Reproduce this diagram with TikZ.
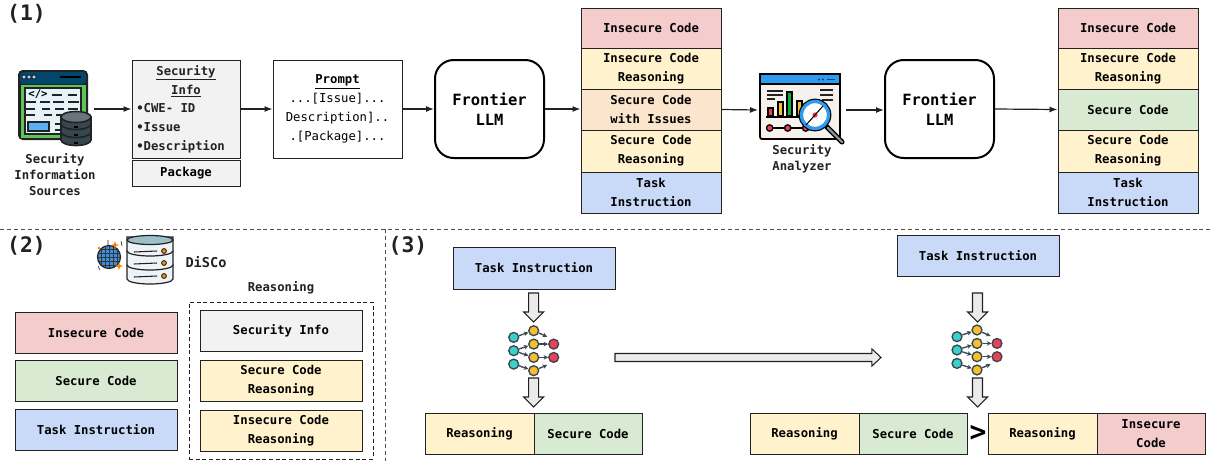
\documentclass[tikz,border=0pt]{standalone}
\usepackage{fontspec}
\setmainfont{DejaVu Sans Mono}
\usetikzlibrary{arrows.meta,calc}
\definecolor{cpink}{HTML}{F4CCCC}
\definecolor{cyel}{HTML}{FFF2CC}
\definecolor{cora}{HTML}{FCE5CD}
\definecolor{cgrn}{HTML}{D9EAD3}
\definecolor{cblu}{HTML}{C9DAF8}
\definecolor{cgry}{HTML}{F2F2F2}
\definecolor{ink}{HTML}{222222}
\definecolor{navy}{HTML}{03466B}
\definecolor{slate}{HTML}{37474F}
\definecolor{tealc}{HTML}{3CD0CC}
\definecolor{yelc}{HTML}{F7BE2D}
\definecolor{redc}{HTML}{EE3F55}
\definecolor{wingreen}{HTML}{5FC45A}
\definecolor{winblue}{HTML}{E6F4FA}
\definecolor{tabblue}{HTML}{5AB0F0}
\definecolor{hdrblue}{HTML}{2D9CF0}
\definecolor{paper}{HTML}{F7F1EE}
\definecolor{dbbody}{HTML}{EDF3F6}
\definecolor{dbtop}{HTML}{9DBFC9}
\definecolor{globeb}{HTML}{3F8FE0}
\newcommand\fs{\fontsize{9.2}{14.25}\selectfont\bfseries}
\tikzset{
 x=0.75pt,y=-0.75pt,
 box/.style={draw=ink,line width=0.75pt,inner sep=0pt,align=center,font=\fs},
 lbl/.style={inner sep=0pt,align=center,font=\fs,text=ink},
 flow/.style={draw=ink,line width=0.9pt,-{Latex[length=6pt,width=4.5pt]}},
 llm/.style={draw=black,line width=1.5pt,rounded corners=14pt,inner sep=0pt,align=center,
   font=\fontsize{11.6}{15}\selectfont\bfseries,minimum width=81.75pt,minimum height=73.5pt},
 title/.style={inner sep=0pt,font=\fontsize{16}{18}\selectfont\bfseries,text=ink},
 divider/.style={draw=ink!80,line width=0.7pt,dash pattern=on 3pt off 2.2pt},
 bigarrow/.style n args={3}{draw=ink,line width=0.8pt,fill=black!8,line join=miter,
   to path={let \p1=(\tikztostart),\p2=(\tikztotarget),
     \n1={atan2(\y2-\y1,\x2-\x1)},\n2={veclen(\x2-\x1,\y2-\y1)} in
     ($(\tikztostart)+({\n1+90}:#1)$) -- ++({\n1}:{\n2-#3}) -- ++({\n1+90}:{#2-#1})
     -- (\tikztotarget) -- ($(\tikztostart)+({\n1}:{\n2-#3})+({\n1-90}:#2)$)
     -- ++({\n1+90}:{#2-#1}) -- ($(\tikztostart)+({\n1-90}:#1)$) -- cycle}},
 nn/.style={circle,draw=slate,line width=1pt,minimum size=7.4pt,inner sep=0pt},
 nl/.style={draw=slate,line width=1pt,-{Stealth[length=3.4pt,width=3.4pt]}},
}
% name, x0, y0, x1, y1, fill, text
\newcommand\bx[7]{%
 \pgfmathsetmacro\bw{(#4-#2)*0.75}\pgfmathsetmacro\bh{(#5-#3)*0.75}%
 \pgfmathsetmacro\bcx{(#2+#4)/2}\pgfmathsetmacro\bcy{(#3+#5)/2}%
 \node[box,fill=#6,minimum width=\bw pt,minimum height=\bh pt] (#1) at (\bcx,\bcy) {#7};}
% small layered network: prefix, x shift, y shift
\newcommand\netw[3]{%
 \begin{scope}[shift={(#2,#3)}]
 \node[nn,fill=tealc] (#1t1) at (0,6.7) {};
 \node[nn,fill=tealc] (#1t2) at (0,20) {};
 \node[nn,fill=tealc] (#1t3) at (0,33.4) {};
 \node[nn,fill=yelc] (#1y1) at (20,0) {};
 \node[nn,fill=yelc] (#1y2) at (20,13.4) {};
 \node[nn,fill=yelc] (#1y3) at (20,26.7) {};
 \node[nn,fill=yelc] (#1y4) at (20,40) {};
 \node[nn,fill=redc] (#1r1) at (40,13.4) {};
 \node[nn,fill=redc] (#1r2) at (40,26.7) {};
 \coordinate (#1e1) at (33.5,6);
 \coordinate (#1e2) at (33.5,34.3);
 \draw[nl] (#1t1) -- (#1y1);
 \draw[nl] (#1t2) -- (#1y2);
 \draw[nl] (#1t2) -- (#1y3);
 \draw[nl] (#1t3) -- (#1y4);
 \draw[nl] (#1y1) -- (#1e1);
 \draw[nl] (#1y2) -- (#1r1);
 \draw[nl] (#1y3) -- (#1r2);
 \draw[nl] (#1y4) -- (#1e2);
 \end{scope}}
\begin{document}
\begin{tikzpicture}
\useasboundingbox (0,0) rectangle (1210,461);
\fill[white] (0,0) rectangle (1210,461);
% section labels
\node[title] (t1) at (26.5,14) {(1)};
\node[title] (t2) at (26.5,246) {(2)};
\node[title] (t3) at (408,246) {(3)};
% dividers
\coordinate (dl) at (0,229); \coordinate (dr) at (1210,229);
\coordinate (dv) at (385,229); \coordinate (dw) at (385,461);
\draw[divider] (dl) -- (dr);
\draw[divider] (dv) -- (dw);

% --- security information sources icon
\begin{scope}
 \fill[ink,rounded corners=3.5pt] (18,70) rectangle (88,140);
 \fill[navy,rounded corners=2.5pt] (20,72) rectangle (86,84);
 \foreach \q in {24,29,34}{\draw[black,line width=0.4pt,fill=white!75!navy] (\q,77) circle (2);}
 \draw[black,line width=1pt] (60,77) -- (81,77);
 \fill[wingreen] (20.5,84.5) rectangle (85.5,138);
 \draw[ink,line width=0.9pt,fill=winblue] (25,88) rectangle (81,134);
 \node[inner sep=0pt,font=\fontsize{8}{8}\selectfont\bfseries] (codetag) at (38,94) {</>};
 \draw[ink,line width=1.2pt] (52,95) -- (62,95) (68,95) -- (77,95);
 \draw[ink,line width=1.2pt] (26,102) -- (36,102) (40,102) -- (50,102) (53,102) -- (64,102) (68,102) -- (79,102);
 \draw[ink,line width=1.2pt] (26,109) -- (35,109) (42,109) -- (50,109) (55,109) -- (64,109) (68,109) -- (78,109);
 \draw[ink,line width=1.2pt] (26,115) -- (35,115) (44,115) -- (52,115) (56,115) -- (62,115);
 \draw[ink,line width=1.2pt,fill=tabblue] (28,122) rectangle (49,131);
 \draw[ink,line width=1.2pt] (55,124) -- (60,124) (55,130) -- (60,130);
 % database
 \foreach \q in {133,125,117}{
  \draw[ink,line width=1.2pt,fill=slate] (61,\q) -- (61,\q+7) arc[start angle=180,end angle=360,x radius=15,y radius=-5.5] -- (91,\q) -- cycle;
 }
 \draw[ink,line width=1.2pt,fill=slate!75] (76,117) ellipse (15 and 5.5);
 \foreach \q in {127,135,143}{\draw[black,line width=1pt] (74,\q) -- (78,\q);}
\end{scope}
\node[minimum width=52.5pt,minimum height=52.5pt,inner sep=0pt] (src) at (55,109) {};
\node[lbl,font=\fontsize{9.2}{12.3}\selectfont\bfseries] (srct) at (55,174.5) {Security\\Information\\Sources};

% --- top row boxes
\bx{info}{132}{60}{240}{158}{cgry}{}
\node[lbl,anchor=north] (infoh) at (186,65) {\underline{Security}\\\underline{Info}};
\node[lbl,align=left,anchor=north west] (infol) at (136,103) {\textbullet CWE- ID\\\textbullet Issue\\\textbullet Description};
\bx{pkg}{132}{160}{240}{186}{cgry}{Package}
\bx{prompt}{273}{60}{402}{158}{white}{\underline{Prompt}\\\mdseries ...[Issue]...\\\mdseries Description]..\\\mdseries .[Package]...}
\node[llm] (llma) at (489.5,109) {Frontier\\LLM};
\bx{sa}{581}{8}{721}{48}{cpink}{Insecure Code}
\bx{sb}{581}{48}{721}{89}{cyel}{Insecure Code\\Reasoning}
\bx{sc}{581}{89}{721}{130}{cora}{Secure Code\\with Issues}
\bx{sd}{581}{130}{721}{172}{cyel}{Secure Code\\Reasoning}
\bx{se}{581}{172}{721}{213}{cblu}{Task\\Instruction}

% --- security analyzer icon
\begin{scope}
 \draw[black,line width=1.3pt,rounded corners=1.5pt,fill=paper] (760,74) rectangle (840,139);
 \draw[black,line width=1.3pt,fill=hdrblue] (760,74) rectangle (840,84);
 \fill[navy] (819,79.5) circle (1.2) (823,79.5) circle (1.2);
 \draw[navy,line width=1.2pt] (827,79.5) -- (835,79.5);
 \draw[ink,line width=0.9pt] (767,91) -- (783,91) (767,95) -- (783,95) (767,99) -- (775,99);
 \draw[ink,line width=0.9pt] (820,90) -- (833,90) (820,95) -- (833,95) (822,100) -- (833,100);
 \draw[black,line width=0.9pt,fill=redc] (768,108) rectangle (773,116);
 \draw[black,line width=0.9pt,fill=yelc] (778,102) rectangle (783,116);
 \draw[black,line width=0.9pt,fill=green!65!cyan!70!black] (787,92) rectangle (792,116);
 \draw[black,line width=0.9pt,fill=yelc] (797,101) rectangle (802,116);
 \draw[black,line width=1.1pt] (766,117) -- (808,117);
 \draw[black,line width=1.1pt] (769,128) -- (806,128);
 \foreach \q in {769.7,787.7,805.7}{\draw[black,line width=1pt,fill=redc] (\q,128) circle (3.2);}
 \draw[black,line width=3.8pt,line cap=round] (826,126) -- (842,142);
 \draw[slate!60,line width=1.7pt,line cap=round] (828,128) -- (842,142);
 \draw[black,line width=4.3pt,fill=white] (815,115) circle (13.5);
 \draw[hdrblue,line width=2.5pt,fill=white] (815,115) circle (13.5);
 \fill[redc] (815,115) circle (2.6);
 \draw[black,line width=0.8pt] (806,125) -- (823,106);
\end{scope}
\node[minimum width=63pt,minimum height=52.5pt,inner sep=0pt] (ana) at (802,110) {};
\node[lbl,font=\fontsize{9.2}{12.3}\selectfont\bfseries] (anat) at (802,158.7) {Security\\Analyzer};

\node[llm] (llmb) at (939.5,109) {Frontier\\LLM};
\bx{ra}{1058}{8}{1198}{48}{cpink}{Insecure Code}
\bx{rb}{1058}{48}{1198}{89}{cyel}{Insecure Code\\Reasoning}
\bx{rc}{1058}{89}{1198}{130}{cgrn}{Secure Code}
\bx{rd}{1058}{130}{1198}{172}{cyel}{Secure Code\\Reasoning}
\bx{re}{1058}{172}{1198}{213}{cblu}{Task\\Instruction}

% --- top row connectors
\coordinate (srcout) at (94,109);
\draw[flow] (srcout) -- (info.west |- srcout);
\draw[flow] (info.east) -- (info.east -| prompt.west);
\draw[flow] (prompt.east) -- (llma.west);
\draw[flow] (llma.east) -- (llma.east -| sc.west);
\coordinate (anain) at (758,110); \coordinate (anaout) at (846,110);
\draw[flow] (sc.east) -- (anain);
\draw[flow] (anaout) -- (llmb.west |- anaout);
\draw[flow] (llmb.east) -- (rc.west);

% --- section 2: DiSCo icon
\begin{scope}
 \foreach \q in {265,251,237}{
  \draw[ink,line width=0.9pt,fill=dbbody] (127,\q) -- (127,\q+14) arc[start angle=180,end angle=360,x radius=23,y radius=-5] -- (173,\q) -- cycle;
 }
 \draw[ink,line width=0.9pt,fill=dbtop] (150,240) ellipse (23 and 4.5);
 \foreach \q in {251,263,276}{
  \draw[ink,line width=0.8pt] (134,\q+1) -- (157,\q);
  \draw[ink,line width=0.7pt,fill=orange!90!yellow] (164,\q) circle (2.4);
 }
 \draw[ink,line width=0.9pt,fill=globeb] (109,257) circle (11.5);
 \begin{scope}
  \clip (109,257) circle (11.5);
  \foreach \q in {-8,-4,0,4,8}{
   \draw[black!80,line width=0.55pt] (109+\q,245) -- (109+\q,269);
   \draw[black!80,line width=0.55pt] (97,257+\q) -- (121,257+\q);
  }
 \end{scope}
 \fill[orange] (115,241) -- (116,244) -- (119,245) -- (116,246) -- (115,249) -- (114,246) -- (111,245) -- (114,244) -- cycle;
 \fill[orange] (119,262) -- (120,265) -- (123,266) -- (120,267) -- (119,270) -- (118,267) -- (115,266) -- (118,265) -- cycle;
 \fill[orange] (99,248) circle (1.5);
 \draw[ink,line width=0.5pt] (108,240) -- (108,246) (121,241) -- (122,246) (98,266) -- (100,270);
\end{scope}
\node[minimum width=57pt,minimum height=37.5pt,inner sep=0pt] (discoicon) at (135,260) {};
\node[lbl,font=\fontsize{10.2}{13}\selectfont\bfseries] (disco) at (206,262) {DiSCo};

\bx{ia}{15}{312}{177}{353}{cpink}{Insecure Code}
\bx{ib}{15}{360}{177}{401}{cgrn}{Secure Code}
\bx{ic}{15}{409}{177}{450}{cblu}{Task Instruction}
\node[lbl] (reasl) at (281,288) {Reasoning};
\node[draw=ink,line width=0.7pt,dash pattern=on 3pt off 2pt,minimum width=138pt,minimum height=117.75pt,inner sep=0pt] (rgroup) at (281,380.5) {};
\bx{ja}{200}{310}{362}{351}{cgry}{Security Info}
\bx{jb}{200}{360}{362}{401}{cyel}{Secure Code\\Reasoning}
\bx{jc}{200}{410}{362}{451}{cyel}{Insecure Code\\Reasoning}

% --- section 3 left
\bx{ta}{453}{247}{615}{289}{cblu}{Task Instruction}
\netw{a}{513.7}{330.7}
\bx{ka}{425}{413}{534}{454}{cyel}{Reasoning}
\bx{kb}{534}{413}{642}{454}{cgrn}{Secure Code}
\coordinate (a1s) at (533.7,293); \coordinate (a1e) at (533.7,322);
\coordinate (a2s) at (533.7,378); \coordinate (a2e) at (533.7,407);
\draw[bigarrow={3.75pt}{7.5pt}{7.5pt}] (a1s) to (a1e);
\draw[bigarrow={3.75pt}{7.5pt}{7.5pt}] (a2s) to (a2e);
% long arrow
\coordinate (ls) at (615,357.5); \coordinate (le) at (881,357.5);
\draw[bigarrow={3pt}{6.4pt}{6.8pt}] (ls) to (le);

% --- section 3 right
\bx{tb}{897}{235}{1059}{276}{cblu}{Task Instruction}
\netw{b}{957}{330}
\bx{la}{750}{413}{859}{454}{cyel}{Reasoning}
\bx{lb}{859}{413}{967}{454}{cgrn}{Secure Code}
\bx{lc}{988}{413}{1097}{454}{cyel}{Reasoning}
\bx{ld}{1097}{413}{1205}{454}{cpink}{Insecure\\Code}
\coordinate (b1s) at (977.5,293); \coordinate (b1e) at (977.5,322);
\coordinate (b2s) at (977.5,378); \coordinate (b2e) at (977.5,407);
\draw[bigarrow={3.75pt}{7.5pt}{7.5pt}] (b1s) to (b1e);
\draw[bigarrow={3.75pt}{7.5pt}{7.5pt}] (b2s) to (b2e);
\node[inner sep=0pt,font=\fontsize{21}{22}\selectfont\bfseries] (gt) at (978,433) {>};
\end{tikzpicture}
\end{document}
